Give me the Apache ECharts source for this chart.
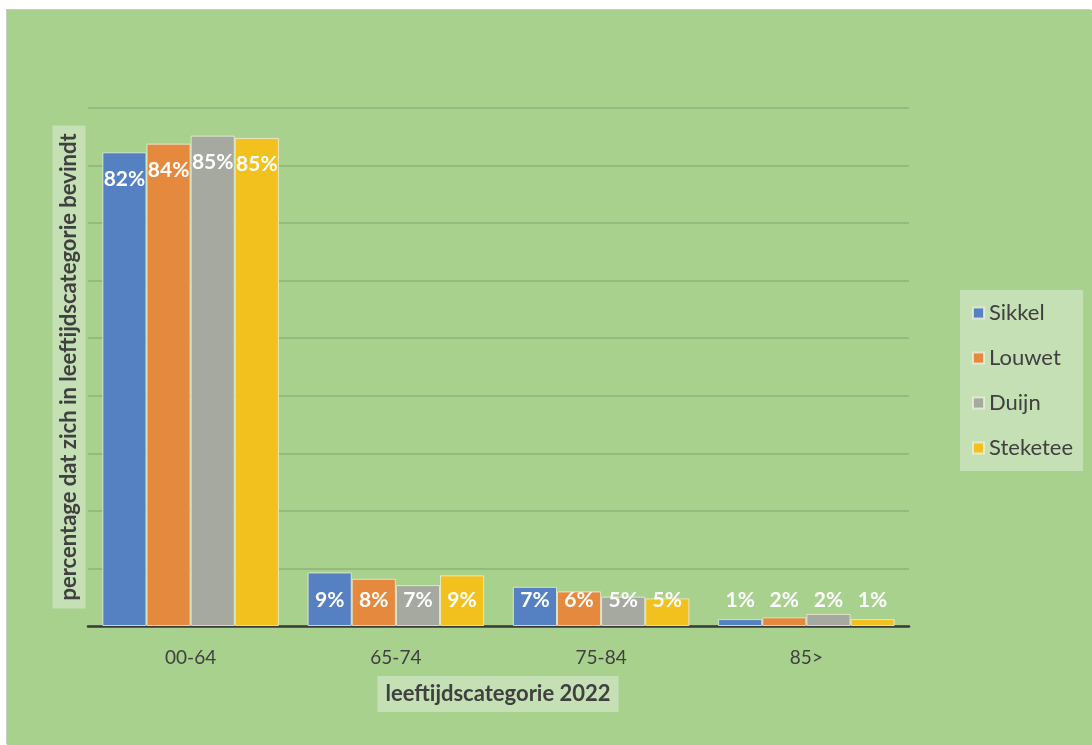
<!DOCTYPE html>
<html>
<head>
<meta charset="utf-8">
<script src="https://cdn.jsdelivr.net/npm/echarts@6/dist/echarts.min.js"></script>
<style>
html,body{margin:0;padding:0;background:#ffffff;width:1092px;height:745px;overflow:hidden;}
#chart{position:absolute;left:7px;top:10px;width:1085px;height:735px;background:#a9d18e;box-shadow:-1px -1px 0 #c9cbc6;}
</style>
</head>
<body>
<div id="chart"></div>
<script>
const categories = ['00-64', '65-74', '75-84', '85>'];
const seriesNames = ['Sikkel', 'Louwet', 'Duijn', 'Steketee'];
const sikkel   = [82.3, 9.3, 6.8, 1.2];
const louwet   = [83.8, 8.2, 6.0, 1.5];
const duijn    = [85.2, 7.1, 5.1, 2.1];
const steketee = [84.8, 8.8, 4.8, 1.2];
const yTitle = 'percentage dat zich in leeftijdscategorie bevindt';
const xTitle = 'leeftijdscategorie 2022';
const colors = ['#5580c2', '#e5893e', '#a6a9a0', '#f3c11d'];

const FONT = 'Lato, "Open Sans", sans-serif';
const chart = echarts.init(document.getElementById('chart'), null, {renderer: 'canvas'});

function makeSeries(name, values, color) {
  return {
    name: name,
    type: 'bar',
    barGap: '0%',
    barCategoryGap: '14%',
    itemStyle: {color: color, borderColor: 'rgba(235,240,220,0.8)', borderWidth: 1},
    data: values.map(v => ({
      value: v,
      label: {
        show: true,
        position: v >= 50 ? 'insideTop' : 'insideBottom',
        distance: v >= 50 ? 16 : 15,
        formatter: p => Math.round(p.value) + '%',
        color: '#ffffff',
        fontFamily: FONT,
        fontWeight: 'bold',
        fontSize: 21
      }
    }))
  };
}

chart.setOption({
  animation: false,
  backgroundColor: '#a9d18e',
  color: colors,
  grid: {left: 81, right: 183, top: 98, bottom: 119},
  legend: {
    orient: 'vertical',
    left: 953,
    top: 280,
    data: seriesNames,
    icon: 'rect',
    itemWidth: 11,
    itemHeight: 11,
    itemGap: 23,
    padding: [12, 10, 12, 12],
    backgroundColor: '#c5e0b4',
    textStyle: {fontFamily: FONT, fontSize: 22, color: '#404040'}
  },
  xAxis: {
    type: 'category',
    data: categories,
    axisTick: {show: false},
    axisLine: {lineStyle: {color: '#3a3a3a', width: 2.5}},
    axisLabel: {fontFamily: FONT, fontSize: 19, color: '#404040', margin: 22}
  },
  yAxis: {
    type: 'value',
    min: 0,
    max: 90,
    interval: 10,
    axisLabel: {show: false},
    axisLine: {show: false},
    axisTick: {show: false},
    splitLine: {lineStyle: {color: '#8cb27a', width: 1.5}}
  },
  graphic: [
    {
      type: 'text',
      x: 62,
      y: 357,
      rotation: Math.PI / 2,
      style: {
        text: yTitle,
        fontFamily: FONT,
        fontWeight: 'bold',
        fontSize: 22,
        fill: '#404040',
        align: 'center',
        verticalAlign: 'middle',
        backgroundColor: '#c5e0b4',
        padding: [6, 8, 5, 8]
      }
    },
    {
      type: 'text',
      x: 491,
      y: 684,
      style: {
        text: xTitle,
        fontFamily: FONT,
        fontWeight: 'bold',
        fontSize: 22,
        fill: '#404040',
        align: 'center',
        verticalAlign: 'middle',
        backgroundColor: '#c5e0b4',
        padding: [8, 8, 6, 8]
      }
    }
  ],
  series: [
    makeSeries(seriesNames[0], sikkel, colors[0]),
    makeSeries(seriesNames[1], louwet, colors[1]),
    makeSeries(seriesNames[2], duijn, colors[2]),
    makeSeries(seriesNames[3], steketee, colors[3])
  ]
});
</script>
</body>
</html>
